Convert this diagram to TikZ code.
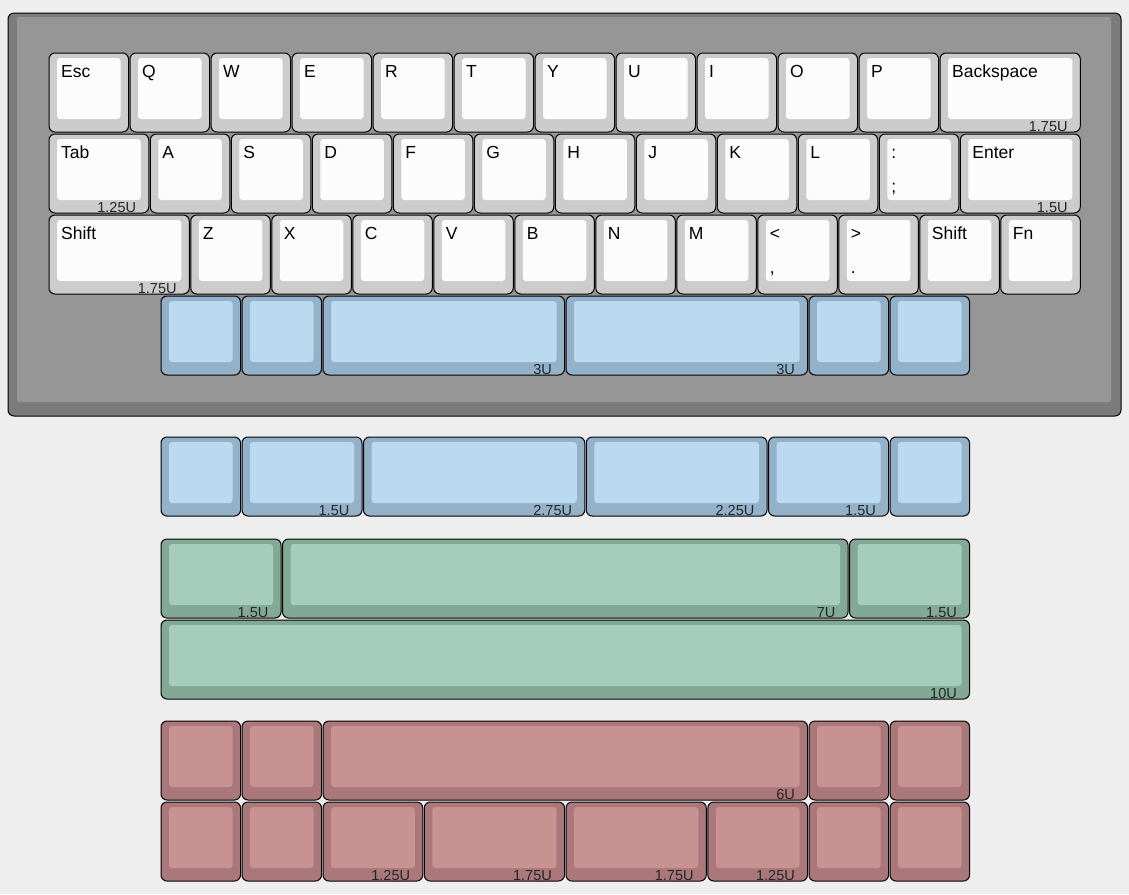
\documentclass[tikz,border=0pt]{standalone}
\usepackage{fontspec}
\setmainfont{Liberation Sans}

\definecolor{pagebg}{HTML}{EEEEEE}
\definecolor{casedark}{HTML}{7B7B7B}
\definecolor{caselight}{HTML}{969696}
\definecolor{whitecap}{HTML}{CCCCCC}
\definecolor{whitetop}{HTML}{FCFCFC}
\definecolor{bluecap}{HTML}{93B2CA}
\definecolor{bluetop}{HTML}{BBD9EF}
\definecolor{greencap}{HTML}{82A896}
\definecolor{greentop}{HTML}{A6CDBB}
\definecolor{redcap}{HTML}{AA787A}
\definecolor{redtop}{HTML}{C89192}

\def\keyunit{81}

\tikzset{
  white cap/.style={fill=whitecap, draw=black, line width=1pt, rounded corners=6pt},
  white top/.style={fill=whitetop, rounded corners=3pt},
  blue cap/.style={fill=bluecap, draw=black, line width=1pt, rounded corners=6pt},
  blue top/.style={fill=bluetop, rounded corners=3pt},
  green cap/.style={fill=greencap, draw=black, line width=1pt, rounded corners=6pt},
  green top/.style={fill=greentop, rounded corners=3pt},
  red cap/.style={fill=redcap, draw=black, line width=1pt, rounded corners=6pt},
  red top/.style={fill=redtop, rounded corners=3pt},
  legend/.style={anchor=base west, inner sep=0pt, font=\fontsize{17.5}{20}\selectfont},
  sizelabel/.style={anchor=base east, inner sep=0pt, text=black!85, font=\fontsize{14.5}{16}\selectfont}
}

% one key: left, top, width (units), colour, legend, lower legend, size, name
\newcommand{\keycap}[8]{%
  \pgfmathsetmacro\kr{#1+#3*\keyunit-1.5}
  \pgfmathsetmacro\kb{#2+79}
  \draw[#4 cap] (#1,#2) rectangle (\kr,\kb);
  \fill[#4 top] (#1+8,#2+5) rectangle (\kr-8,\kb-13);
  \node[legend] (#8) at (#1+12,#2+24) {#5};
  \node[legend] (#8-b) at (#1+12,#2+58) {#6};
  \node[sizelabel] (#8-s) at (\kr-12.5,\kb-1) {#7};
}

% one row of keys: left, top, colour, name, list of width/legend/lower/size
\newcommand{\keyrow}[5]{%
  \foreach \w/\ta/\tb/\sz [count=\i, remember=\xe as \xs (initially 0)] in {#5}{
    \pgfmathsetmacro\xe{\xs+\w}
    \keycap{#1+\xs*\keyunit}{#2}{\w}{#3}{\ta}{\tb}{\sz}{#4-\i}
  }
}

\begin{document}
\begin{tikzpicture}[x=1pt,y=-1pt]
  \useasboundingbox[fill=pagebg] (0,0) rectangle (1129,894);

  % case
  \draw[fill=casedark, line width=1pt, rounded corners=6pt] (8,13) rectangle (1121,416);
  \fill[caselight, rounded corners=2pt] (17,17) rectangle (1111,402);

  % number row
  \keyrow{49}{53}{white}{top}{1/Esc/{}/{}, 1/Q/{}/{}, 1/W/{}/{}, 1/E/{}/{}, 1/R/{}/{}, 1/T/{}/{},
    1/Y/{}/{}, 1/U/{}/{}, 1/I/{}/{}, 1/O/{}/{}, 1/P/{}/{}, 1.75/Backspace/{}/1.75U}
  % home row
  \keyrow{49}{134}{white}{home}{1.25/Tab/{}/1.25U, 1/A/{}/{}, 1/S/{}/{}, 1/D/{}/{}, 1/F/{}/{},
    1/G/{}/{}, 1/H/{}/{}, 1/J/{}/{}, 1/K/{}/{}, 1/L/{}/{}, 1/:/;/{}, 1.5/Enter/{}/1.5U}
  % bottom letter row
  \keyrow{49}{215}{white}{low}{1.75/Shift/{}/1.75U, 1/Z/{}/{}, 1/X/{}/{}, 1/C/{}/{}, 1/V/{}/{},
    1/B/{}/{}, 1/N/{}/{}, 1/M/{}/{}, 1/</{,}/{}, 1/>/./{}, 1/Shift/{}/{}, 1/Fn/{}/{}}
  % space row in the case
  \keyrow{161}{296}{blue}{space}{1/{}/{}/{}, 1/{}/{}/{}, 3/{}/{}/3U, 3/{}/{}/3U, 1/{}/{}/{}, 1/{}/{}/{}}

  % spare space rows
  \keyrow{161}{437}{blue}{alta}{1/{}/{}/{}, 1.5/{}/{}/1.5U, 2.75/{}/{}/2.75U, 2.25/{}/{}/2.25U,
    1.5/{}/{}/1.5U, 1/{}/{}/{}}
  \keyrow{161}{539}{green}{altb}{1.5/{}/{}/1.5U, 7/{}/{}/7U, 1.5/{}/{}/1.5U}
  \keyrow{161}{620}{green}{altc}{10/{}/{}/10U}
  \keyrow{161}{721}{red}{altd}{1/{}/{}/{}, 1/{}/{}/{}, 6/{}/{}/6U, 1/{}/{}/{}, 1/{}/{}/{}}
  \keyrow{161}{802}{red}{alte}{1/{}/{}/{}, 1/{}/{}/{}, 1.25/{}/{}/1.25U, 1.75/{}/{}/1.75U,
    1.75/{}/{}/1.75U, 1.25/{}/{}/1.25U, 1/{}/{}/{}, 1/{}/{}/{}}
\end{tikzpicture}
\end{document}
